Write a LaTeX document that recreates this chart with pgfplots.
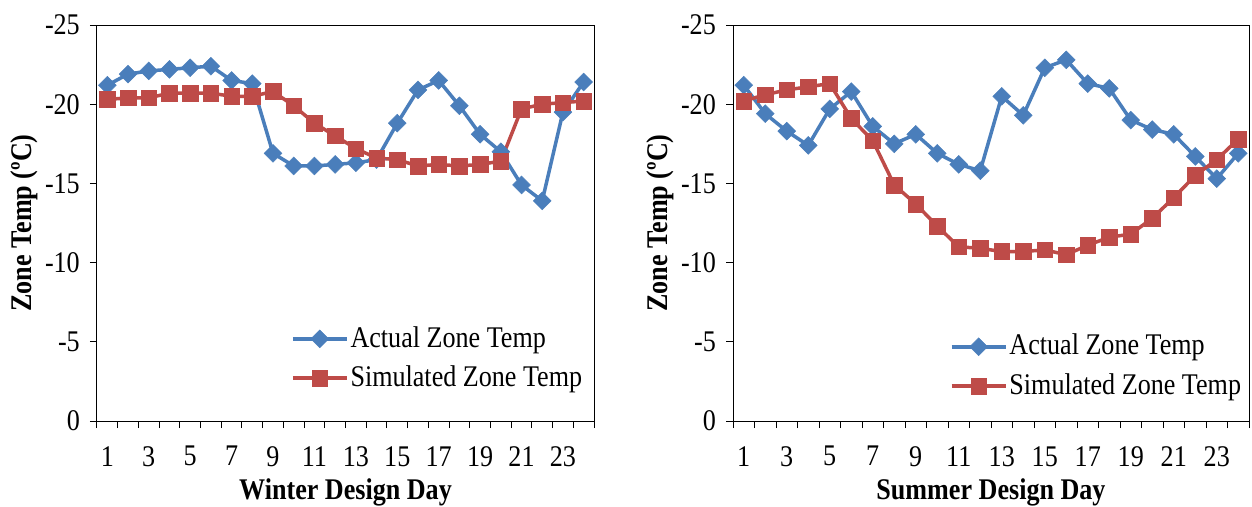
\documentclass[border=0pt]{standalone}
\usepackage{fontspec}
\setmainfont{Liberation Serif}[FakeStretch=0.87]
\usepackage{pgfplots}
\pgfplotsset{compat=1.18}
\definecolor{xblue}{HTML}{4A7EBB}
\definecolor{xred}{HTML}{BE4B48}
\pgfplotsset{
  zonestyle/.style={
    scale only axis,
    width=497pt, height=396pt,
    xmin=0.5, xmax=24.5,
    ymin=-25, ymax=0,
    y dir=reverse,
    xtick={1,3,5,7,9,11,13,15,17,19,21,23},
    xticklabels={1,3,5,7,9,11,13,15,17,19,21,23},
    minor xtick={0.5,1.5,...,24.5},
    ytick={0,-5,-10,-15,-20,-25},
    yticklabels={0,-5,-10,-15,-20,-25},
    tick pos=left,
    tick align=outside,
    major tick length=7pt,
    minor tick length=7pt,
    every major x tick/.append style={draw=none},
    tick style={black, line width=1pt},
    axis line style={line width=1pt},
    xticklabel style={yshift=-8pt},
    xlabel shift=-8pt,
    ylabel shift=-13pt,
    ylabel={\bfseries Zone Temp (ºC)},
    legend cell align=left,
    legend style={draw=none, fill=none, font=\fontsize{30}{34}\selectfont, row sep=10pt, inner sep=0pt},
    legend image code/.code={\draw[mark repeat=2,mark phase=2,#1] plot coordinates {(0pt,0pt) (27pt,0pt) (54pt,0pt)};},
    every tick label/.append style={font=\fontsize{30}{34}\selectfont},
    every axis label/.append style={font=\fontsize{30}{34}\selectfont},
  },
  actual/.style={color=xblue, line width=3.5pt, mark=square*, mark size=6.3pt, mark options={rotate=45, line width=0.5pt}},
  simul/.style={color=xred, line width=3.5pt, mark=square*, mark size=7.8pt, mark options={line width=0.5pt}},
}
\begin{document}
\fontsize{30}{34}\selectfont
\begin{tikzpicture}
\useasboundingbox (0,0) rectangle (1252pt,506pt);
\begin{axis}[zonestyle, at={(97pt,85pt)}, anchor=south west,
  xlabel={\bfseries Winter Design Day},
  legend style={at={(rel axis cs:0.39,0.245)}, anchor=north west}]
\addplot[actual] coordinates {
(1,-21.2) (2,-21.9) (3,-22.1) (4,-22.2) (5,-22.3) (6,-22.4) (7,-21.5) (8,-21.3)
(9,-16.9) (10,-16.1) (11,-16.1) (12,-16.2) (13,-16.3) (14,-16.5) (15,-18.8) (16,-20.9)
(17,-21.5) (18,-19.9) (19,-18.1) (20,-17.0) (21,-14.9) (22,-13.9) (23,-19.5) (24,-21.4)};
\addlegendentry{Actual Zone Temp}
\addplot[simul] coordinates {
(1,-20.3) (2,-20.4) (3,-20.4) (4,-20.7) (5,-20.7) (6,-20.7) (7,-20.5) (8,-20.5)
(9,-20.8) (10,-19.9) (11,-18.8) (12,-18.0) (13,-17.2) (14,-16.6) (15,-16.5) (16,-16.1)
(17,-16.2) (18,-16.1) (19,-16.2) (20,-16.4) (21,-19.7) (22,-20.0) (23,-20.1) (24,-20.2)};
\addlegendentry{Simulated Zone Temp}
\end{axis}
\begin{axis}[zonestyle, at={(733pt,85pt)}, anchor=south west, width=516pt,
  xlabel={\bfseries Summer Design Day},
  legend style={at={(rel axis cs:0.42,0.225)}, anchor=north west}]
\addplot[actual] coordinates {
(1,-21.2) (2,-19.4) (3,-18.3) (4,-17.4) (5,-19.7) (6,-20.8) (7,-18.6) (8,-17.5)
(9,-18.1) (10,-16.9) (11,-16.2) (12,-15.8) (13,-20.5) (14,-19.3) (15,-22.3) (16,-22.8)
(17,-21.3) (18,-21.0) (19,-19.0) (20,-18.4) (21,-18.1) (22,-16.7) (23,-15.3) (24,-16.9)};
\addlegendentry{Actual Zone Temp}
\addplot[simul] coordinates {
(1,-20.2) (2,-20.6) (3,-20.9) (4,-21.1) (5,-21.3) (6,-19.1) (7,-17.7) (8,-14.9)
(9,-13.7) (10,-12.3) (11,-11.0) (12,-10.9) (13,-10.7) (14,-10.7) (15,-10.8) (16,-10.5)
(17,-11.1) (18,-11.6) (19,-11.8) (20,-12.8) (21,-14.1) (22,-15.5) (23,-16.5) (24,-17.8)};
\addlegendentry{Simulated Zone Temp}
\end{axis}
\end{tikzpicture}
\end{document}
